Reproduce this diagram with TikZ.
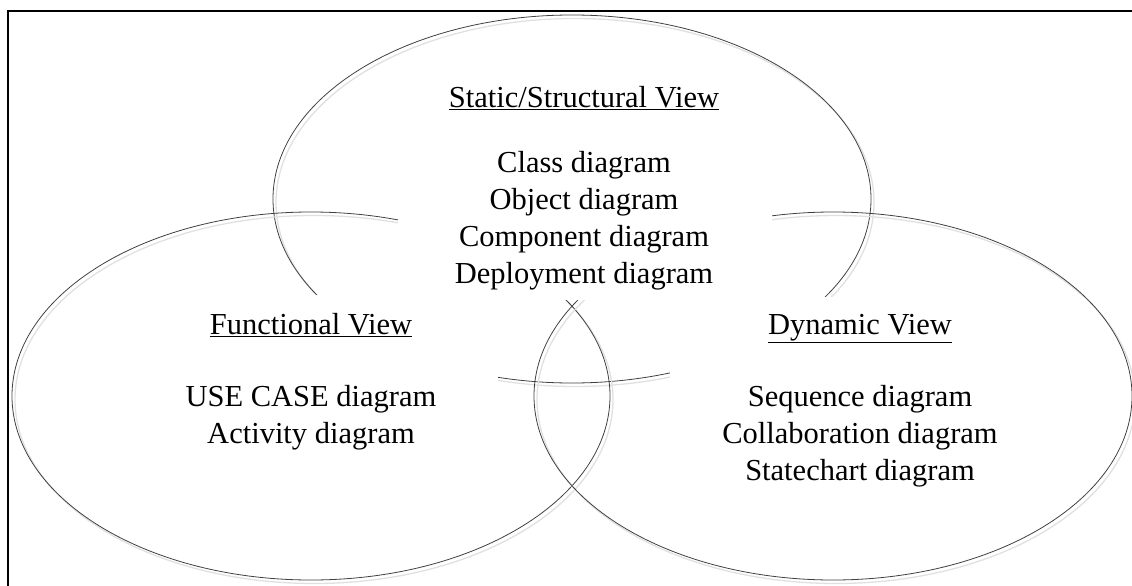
\documentclass[tikz,border=0pt]{standalone}
\usepackage{fontspec}
\setmainfont{Liberation Serif}
\begin{document}
\begin{tikzpicture}[x=1pt,y=-1pt,font=\fontsize{30.5}{37}\selectfont]
\pgfmathsetmacro{\rx}{299}
\pgfmathsetmacro{\ry}{184}
\pgfmathsetmacro{\dl}{37}
\useasboundingbox (0,0) rectangle (1132,586);
\clip (0,0) rectangle (1132,586);
\draw[line width=2pt](7.5,600)--(7.5,11)--(1140,11);
\foreach \cx/\cy in {572/199,311/396,833/396}{\draw[black!12,line width=1.3pt]([shift={(3,3.5)}]\cx,\cy) ellipse (\rx pt and \ry pt);\draw[black!75,line width=0.8pt](\cx,\cy) ellipse (\rx pt and \ry pt);}
% text boxes lie over the rings
\fill[white](398,70) rectangle (772,300);
\fill[white](123,295) rectangle (498,500);
\fill[white](670,297) rectangle (1050,505);
\node[anchor=base] (stat) at (584,107) {\underline{Static/Structural View}};
\foreach \t [count=\i] in {Class diagram,Object diagram,Component diagram,Deployment diagram}{\node[anchor=base] (s\i) at (584,{172+\dl*(\i-1)}) {\t};}
\node[anchor=base] (func) at (311,334) {\underline{Functional View}};
\foreach \t [count=\i] in {USE CASE diagram,Activity diagram}{\node[anchor=base] (f\i) at (311,{406+\dl*(\i-1)}) {\t};}
\node[anchor=base] (dyn) at (860,334) {\underline{Dynamic View}};
\foreach \t [count=\i] in {Sequence diagram,Collaboration diagram,Statechart diagram}{\node[anchor=base] (d\i) at (860,{406+\dl*(\i-1)}) {\t};}
\end{tikzpicture}
\end{document}
